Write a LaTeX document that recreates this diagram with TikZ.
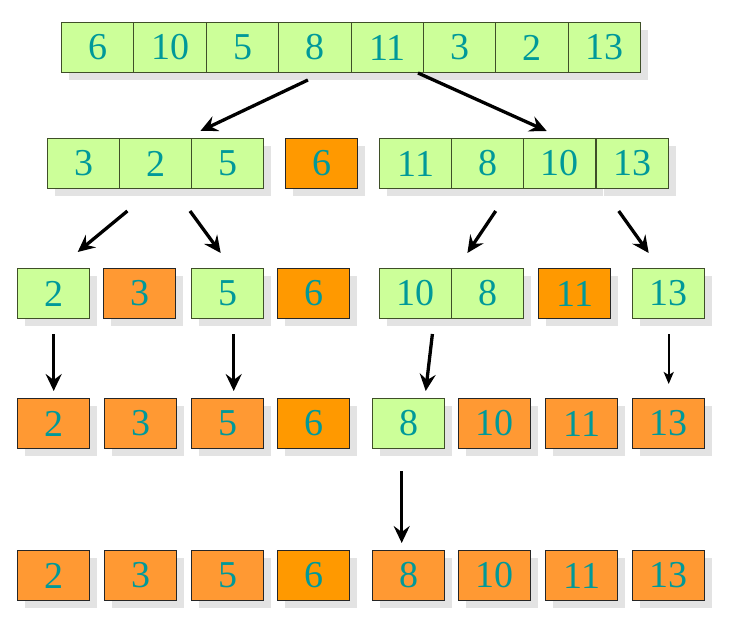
\documentclass[tikz,border=0pt]{standalone}
\usepackage{fontspec}
\setmainfont{Liberation Serif}
\usetikzlibrary{shadows,arrows.meta,calc}
\definecolor{cgreen}{HTML}{CCFF99}
\definecolor{cgreenb}{HTML}{3F4F28}
\definecolor{cpivot}{HTML}{FF9900}
\definecolor{csorted}{HTML}{FF9933}
\definecolor{ctext}{HTML}{009999}
\definecolor{cshadow}{HTML}{E3E3E3}
\begin{document}
\begin{tikzpicture}[x=1pt,y=-1pt,
  cell/.style={anchor=north west, minimum width=72.4pt, minimum height=50pt, inner sep=0pt,
    text=ctext, font=\fontsize{38}{40}\selectfont, line width=1pt,
    drop shadow={shadow xshift=7pt, shadow yshift=-7pt, fill=cshadow, opacity=1}},
  gc/.style={cell, fill=cgreen, draw=cgreenb},
  pc/.style={cell, fill=cpivot, draw=black!85},
  sc/.style={cell, fill=csorted, draw=black!85},
  arr/.style={line width=3.3pt, -{Stealth[length=17pt, width=16pt, inset=6pt]}},
  sarr/.style={line width=2.4pt, -{Stealth[length=12pt, width=10pt, inset=3pt]}}]
\useasboundingbox (0,0) rectangle (730,621);
% row 1
\node[gc] (r1a) at (61,22) {6};
\node[gc] (r1b) at (133.4,22) {10};
\node[gc] (r1c) at (205.8,22) {5};
\node[gc] (r1d) at (278.2,22) {8};
\node[gc] (r1e) at (350.6,22) {11};
\node[gc] (r1f) at (423,22) {3};
\node[gc] (r1g) at (495.4,22) {2};
\node[gc] (r1h) at (567.8,22) {13};
% row 2
\node[gc] (r2a) at (47,138) {3};
\node[gc] (r2b) at (119,138) {2};
\node[gc] (r2c) at (191,138) {5};
\node[pc] (r2d) at (285,138) {6};
\node[gc] (r2e) at (379,138) {11};
\node[gc] (r2f) at (451,138) {8};
\node[gc] (r2g) at (523,138) {10};
\node[gc] (r2h) at (596,138) {13};
% row 3
\node[gc] (r3a) at (17,268) {2};
\node[sc] (r3b) at (103,268) {3};
\node[gc] (r3c) at (191,268) {5};
\node[pc] (r3d) at (277,268) {6};
\node[gc] (r3e) at (379,268) {10};
\node[gc] (r3f) at (451,268) {8};
\node[pc] (r3g) at (538,268) {11};
\node[gc] (r3h) at (632,268) {13};
% row 4
\node[sc] (r4a) at (17,398) {2};
\node[sc] (r4b) at (104,398) {3};
\node[sc] (r4c) at (191,398) {5};
\node[pc] (r4d) at (277,398) {6};
\node[gc] (r4e) at (372,398) {8};
\node[sc] (r4f) at (458,398) {10};
\node[sc] (r4g) at (545,398) {11};
\node[sc] (r4h) at (632,398) {13};
% row 5
\node[sc] (r5a) at (17,550) {2};
\node[sc] (r5b) at (104,550) {3};
\node[sc] (r5c) at (191,550) {5};
\node[pc] (r5d) at (277,550) {6};
\node[sc] (r5e) at (372,550) {8};
\node[sc] (r5f) at (458,550) {10};
\node[sc] (r5g) at (545,550) {11};
\node[sc] (r5h) at (632,550) {13};
% arrows
\draw[arr] ([shift={(-7,7)}]r1d.south) -- ([shift={(8,-7)}]r2b.north east);
\draw[arr] ([shift={(-6,0)}]r1e.south east) -- ([shift={(-13,-7)}]r2g.north);
\draw[arr] ([shift={(7,22)}]r2a.south east) -- ([shift={(24,-16)}]r3a.north);
\draw[arr] ([shift={(-1,22)}]r2c.south west) -- ([shift={(-7,-15)}]r3c.north);
\draw[arr] ([shift={(8,22)}]r2f.south) -- ([shift={(15,-15)}]r3e.north east);
\draw[arr] ([shift={(-14,22)}]r2h.south) -- ([shift={(-20,-15)}]r3h.north);
\draw[arr] ([shift={(0,15)}]r3a.south) -- ([shift={(0,-7)}]r4a.north);
\draw[arr] ([shift={(6,15)}]r3c.south) -- ([shift={(6,-7)}]r4c.north);
\draw[arr] ([shift={(-20,15)}]r3e.south east) -- ([shift={(17,-7)}]r4e.north);
\draw[sarr] ([shift={(0,15)}]r3h.south) -- ([shift={(0,-14)}]r4h.north);
\draw[arr] ([shift={(-7,22)}]r4e.south) -- ([shift={(-7,-7)}]r5e.north);
\end{tikzpicture}
\end{document}
